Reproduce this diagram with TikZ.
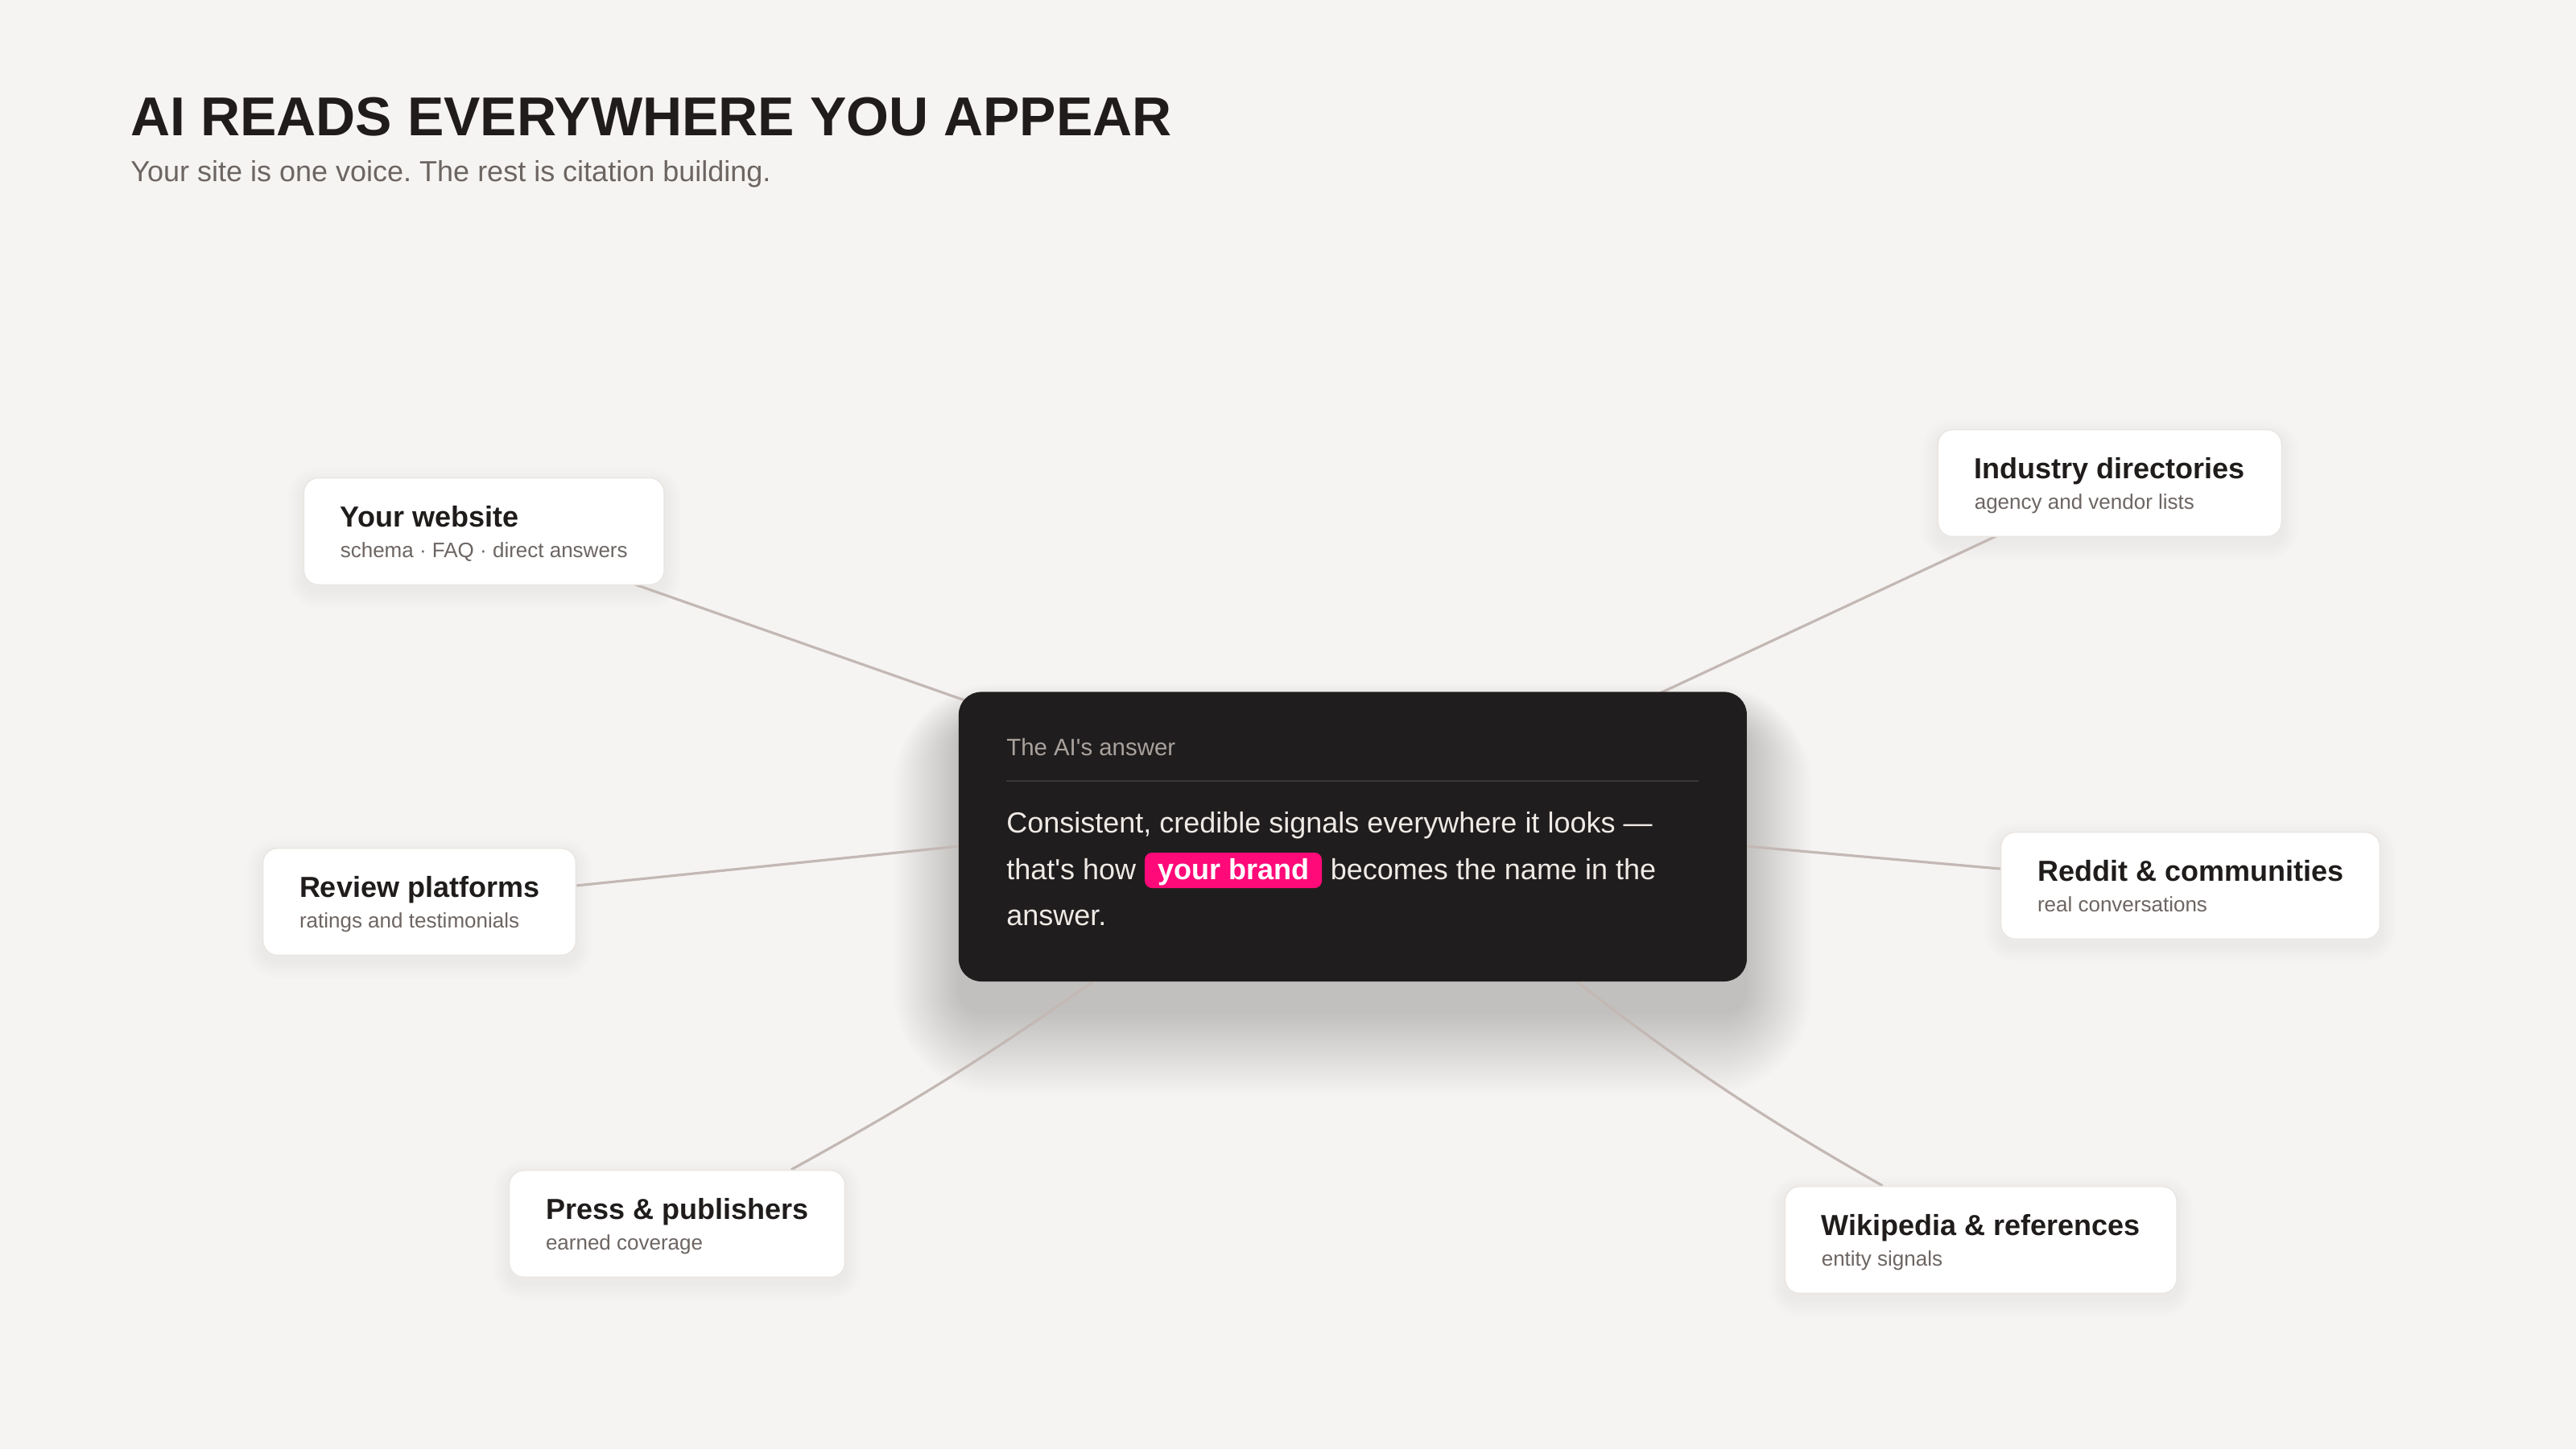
\documentclass[tikz,border=0pt]{standalone}
\usepackage{fontspec}
\setmainfont{Liberation Sans}[Ligatures=TeXOff]
\usetikzlibrary{
	positioning,
	fit,
	backgrounds,
}
\definecolor{PageBg}{HTML}{F6F4F2}
\definecolor{Ink}{HTML}{1F1C1B}
\definecolor{Muted}{HTML}{6C6562}
\definecolor{EdgeGrey}{HTML}{C3B8B4}
\definecolor{CardLine}{HTML}{EAE6E2}
\definecolor{Night}{HTML}{201D1E}
\definecolor{NightLine}{HTML}{3A3736}
\definecolor{NightLabel}{HTML}{A9A29D}
\definecolor{NightText}{HTML}{EFEAE5}
\definecolor{Brand}{HTML}{FF0A78}
\pgfdeclarelayer{bg}
\pgfdeclarelayer{edges}
\pgfdeclarelayer{background}
\pgfsetlayers{bg,edges,background,main}

\begin{document}
\frenchspacing
\begin{tikzpicture}[x=1pt,y=-1pt,
				every node/.style={inner sep=0pt,text=Ink},
				heading/.style={anchor=base west,font=\fontsize{34}{40}\selectfont\bfseries},
				tagline/.style={anchor=base west,font=\fontsize{18}{22}\selectfont,text=Muted},
				card/.style={rectangle,rounded corners=9pt,fill=white,draw=CardLine,line width=0.8pt,inner xsep=22.5pt,inner ysep=16pt},
				cardtitle/.style={anchor=base west,font=\fontsize{18}{22}\selectfont\bfseries,text height=14pt,text depth=0pt},
				cardsub/.style={anchor=base west,font=\fontsize{13}{16}\selectfont,text=Muted,text height=0pt,text depth=1pt},
				answer/.style={rectangle,rounded corners=14pt,fill=Night,minimum width=489.5pt,minimum height=179.8pt},
				anslabel/.style={anchor=base west,font=\fontsize{14.7}{18}\selectfont,text=NightLabel},
				ansbody/.style={anchor=base west,font=\fontsize{18}{28.8}\selectfont,text=NightText},
				brandtag/.style={fill=Brand,text=white,font=\fontsize{18}{22}\selectfont\bfseries,rounded corners=4.5pt,
					inner xsep=8pt,inner ysep=0pt,text height=16.5pt,text depth=5.5pt},
				glow/.style={fill=black,fill opacity=#1},
				edge/.style={draw=EdgeGrey,line width=1.6pt},
			]

			\begin{pgfonlayer}{bg}
				\fill[PageBg] (0,0) rectangle (1600,900);
			\end{pgfonlayer}
			\useasboundingbox (0,0) rectangle (1600,900);

			\node (head) [heading] at (81,84) {AI READS EVERYWHERE YOU APPEAR};
			\node (tagline) [tagline] at (81,112.5) {Your site is one voice. The rest is citation building.};

			% the answer in the middle
			\node (ans) [answer] at (840.2,519.6) {};
			\node (label) [anslabel] at ([shift={(29.7,39.5)}]ans.north west) {The AI's answer};
			\draw[NightLine,line width=1pt] ([shift={(29.7,55.3)}]ans.north west) -- ([shift={(-30,55.3)}]ans.north east);
			\node (line1) [ansbody] at ([shift={(29.7,87.5)}]ans.north west) {Consistent, credible signals everywhere it looks —};
			\node (how) [ansbody] at ([shift={(0,29)}]line1.base west) {that's how};
			\node (brand) [brandtag,base right=5pt of how] {your brand};
			\node (becomes) [ansbody,base right=5pt of brand] {becomes the name in the};
			\node (line3) [ansbody] at ([shift={(0,28.8)}]how.base west) {answer.};

			% the sources around it
			\node (webT) [cardtitle] at (211.2,327) {Your website};
			\node (webS) [cardsub] at ([shift={(0,19)}]webT.base west) {schema · FAQ · direct answers};
			\node (indT) [cardtitle] at (1226.2,297) {Industry directories};
			\node (indS) [cardsub] at ([shift={(0,19)}]indT.base west) {agency and vendor lists};
			\node (revT) [cardtitle] at (185.8,557) {Review platforms};
			\node (revS) [cardsub] at ([shift={(0,19)}]revT.base west) {ratings and testimonials};
			\node (redT) [cardtitle] at (1265.3,547) {Reddit \& communities};
			\node (redS) [cardsub] at ([shift={(0,19)}]redT.base west) {real conversations};
			\node (pressT) [cardtitle] at (338.8,757) {Press \& publishers};
			\node (pressS) [cardsub] at ([shift={(0,19)}]pressT.base west) {earned coverage};
			\node (wikiT) [cardtitle] at (1131.2,767) {Wikipedia \& references};
			\node (wikiS) [cardsub] at ([shift={(0,19)}]wikiT.base west) {entity signals};

			\begin{scope}[on background layer]
				\node (web) [card,fit=(webT)(webS)] {};
				\node (ind) [card,fit=(indT)(indS)] {};
				\node (rev) [card,fit=(revT)(revS)] {};
				\node (red) [card,fit=(redT)(redS)] {};
				\node (press) [card,fit=(pressT)(pressS)] {};
				\node (wiki) [card,fit=(wikiT)(wikiS)] {};
			\end{scope}

			\begin{pgfonlayer}{edges}
				% soft shadows
				\foreach \g in {0,2,...,50}
					\fill[glow=0.0075,rounded corners=14+\g] ([shift={(-0.8*\g,-0.5*\g+20)}]ans.north west) rectangle ([shift={(0.8*\g,\g+20)}]ans.south east);
				\foreach \c in {web,ind,rev,red,press,wiki}
					\foreach \g in {1,...,10}
						\fill[glow=0.005,rounded corners=9+\g] ([shift={(-\g,-\g+4)}]\c.north west) rectangle ([shift={(\g,\g+4)}]\c.south east);

				\draw[edge] (web.center) -- (ans.center);
				\draw[edge] (ind.center) -- (ans.center);
				\draw[edge] (rev.center) -- ([yshift=-6pt]ans.west);
				\draw[edge] (red.center) -- ([yshift=-6pt]ans.east);
				\draw[edge] ([xshift=83.6pt]ans.south west) to[bend left=3] ([xshift=175.5pt]press.north west);
				\draw[edge] ([xshift=-105.7pt]ans.south east) to[bend right=4] ([xshift=61pt]wiki.north west);
			\end{pgfonlayer}
		\end{tikzpicture}
\end{document}
